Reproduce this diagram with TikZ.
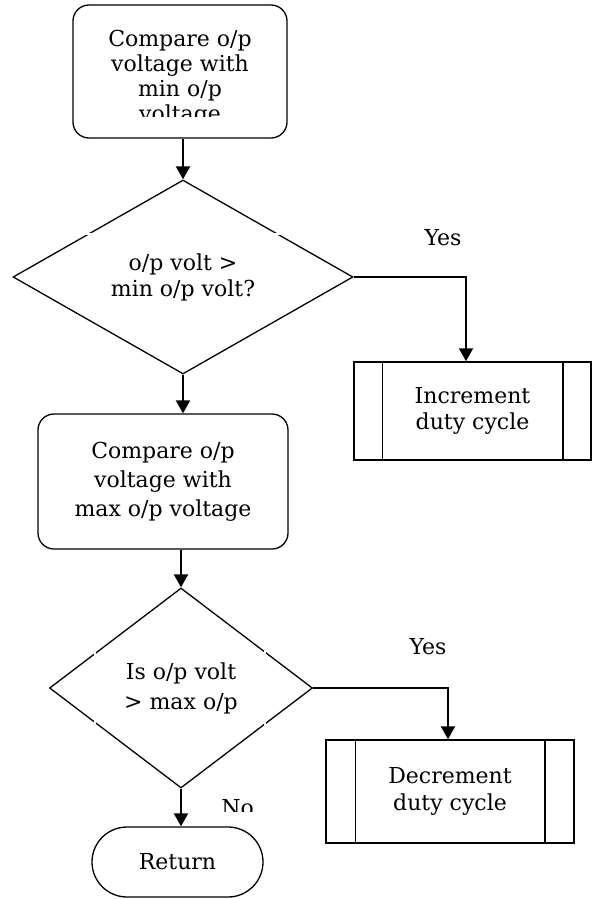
\documentclass[tikz,border=0pt]{standalone}
\usepackage{fontspec}
\setmainfont{DejaVu Serif}
\usetikzlibrary{shapes.geometric,arrows.meta,positioning}

\begin{document}
\begin{tikzpicture}[x=1pt,y=-1pt,
        every node/.style={font=\fontsize{22}{25}\selectfont, align=center},
        roundbox/.style={draw, line width=1.3pt, rounded corners=16pt, inner sep=0pt},
        decide/.style={draw, diamond, line width=1.3pt, inner sep=0pt},
        subproc/.style={draw, line width=1.5pt, inner sep=0pt},
        arrow/.style={line width=2pt, -{Triangle[width=14pt,length=13pt]}},
        gap/.style={white, line width=2.5pt}]
        \useasboundingbox (0,0) rectangle (597,899);

        % main column
        \node[roundbox, minimum width=214pt, minimum height=133pt] (cmpmin) at (180,71.5) {};
        \begin{scope}
                \clip (73,5) rectangle (287,116);
                \node (cmpmintxt) at (180,78) {Compare o/p\\voltage with\\min o/p\\voltage};
        \end{scope}
        \node[decide, aspect=1.75, minimum width=340pt, minimum height=194pt, font=\fontsize{22}{26}\selectfont] (chkmin) at (183,277) {o/p volt >\\min o/p volt?};
        \node[roundbox, minimum width=250pt, minimum height=135pt, font=\fontsize{22}{29}\selectfont] (cmpmax) at (163,481.5) {Compare o/p\\voltage with\\max o/p voltage};
        \node[decide, aspect=1.3, minimum width=263pt, minimum height=200pt, font=\fontsize{22}{30}\selectfont] (chkmax) at (181,688) {Is o/p volt\\> max o/p};
        \node[roundbox, rounded corners=35pt, minimum width=171pt, minimum height=70pt] (ret) at (177.5,862) {Return};

        % side boxes
        \node[subproc, minimum width=237pt, minimum height=98pt, font=\fontsize{22}{26}\selectfont] (incbox) at (472.5,411) {Increment\\duty cycle};
        \node[subproc, minimum width=248pt, minimum height=103pt, font=\fontsize{22}{27}\selectfont] (decbox) at (450,791.5) {Decrement\\duty cycle};
        \foreach \n/\d in {incbox/29,decbox/30} {
                \draw[line width=1.5pt] ([xshift=\d pt]\n.north west) -- ([xshift=\d pt]\n.south west);
                \draw[line width=1.5pt] ([xshift=-\d pt]\n.north east) -- ([xshift=-\d pt]\n.south east);
        }

        % labels
        \node (yes1) at (443,238) {Yes};
        \node (yes2) at (428,647) {Yes};
        \begin{scope}
                \clip (200,780) rectangle (300,811);
                \node (no) at (237.5,807.5) {No};
        \end{scope}

        % connectors
        \draw[arrow] (cmpmin.south -| chkmin.north) -- (chkmin.north);
        \draw[arrow] (chkmin.south) -- (chkmin.south |- cmpmax.north);
        \draw[arrow] (cmpmax.south -| chkmax.north) -- (chkmax.north);
        \draw[arrow] (chkmax.south) -- (chkmax.south |- ret.north);
        \draw[arrow] (chkmin.east) -| ([xshift=-6.5pt]incbox.north);
        \draw[arrow] (chkmax.east) -| ([xshift=-2pt]decbox.north);

        % breaks in the diamond edges
        \draw[gap] (70,234) -- (300,234);
        \draw[gap] (95,640) -- (95,735);
        \draw[gap] (265,640) -- (265,735);
\end{tikzpicture}
\end{document}
